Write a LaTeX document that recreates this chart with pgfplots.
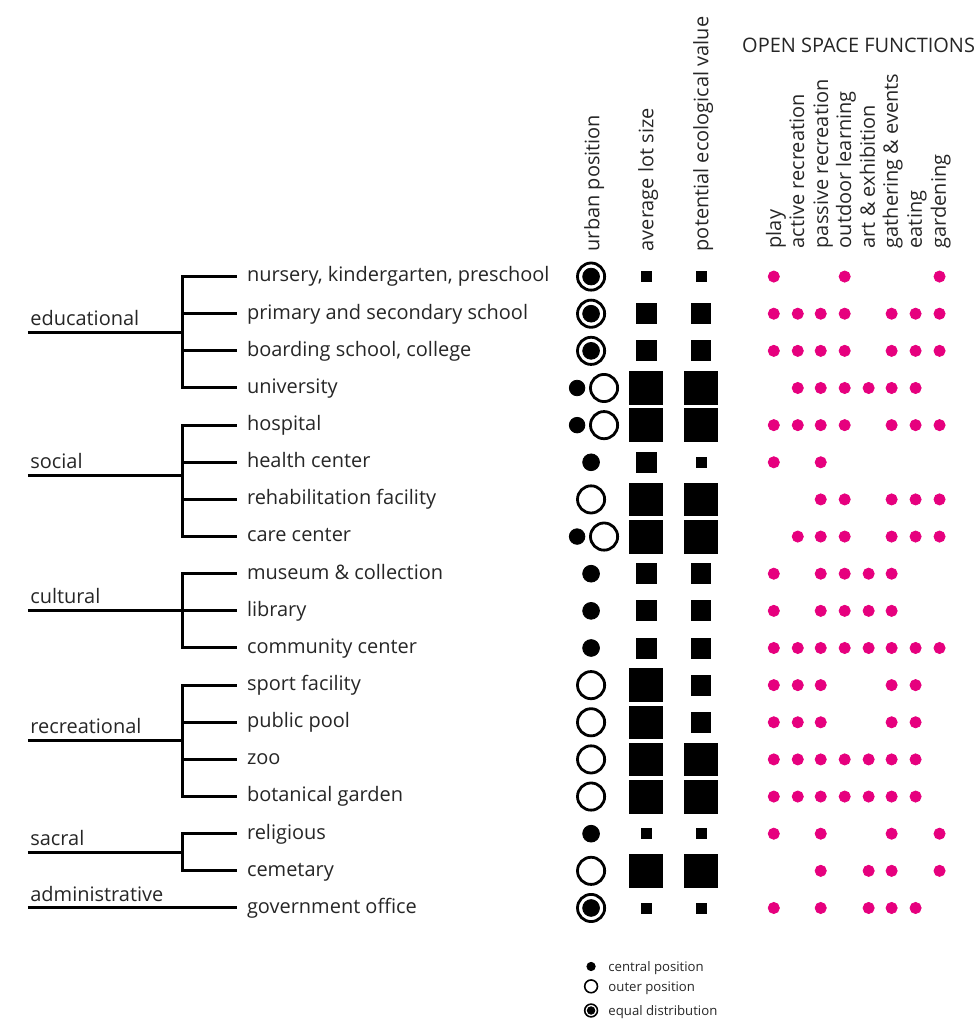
\documentclass[border=0pt]{standalone}
\usepackage{pgfplots}
\pgfplotsset{compat=1.18}
\usepackage{fontspec}
\setmainfont{Open Sans}
\definecolor{fpink}{HTML}{E6007E}
\tikzset{lbl/.style={font=\fontsize{10}{12}\selectfont, inner sep=0pt, text=black!85},
  tree/.style={line width=1.5pt, black}}
\pgfplotsset{fdot/.style={only marks, mark=*, mark size=2.8pt, mark options={draw=fpink, fill=fpink}}}
\begin{document}
\begin{tikzpicture}
\begin{axis}[x=0.5pt, y=18.6pt, y dir=reverse,
  xmin=0, xmax=977, ymin=-6.446, ymax=20.94,
  hide axis, clip=false]
\path[draw=none] (axis cs:0,-6.446) rectangle (axis cs:977,20.94);
% ---- tree ----
\draw[tree] (axis cs:28,2.5) -- (axis cs:183,2.5);
\draw[tree] (axis cs:237,1) -- (axis cs:183,1) -- (axis cs:183,4) -- (axis cs:237,4);
\draw[tree] (axis cs:183,2) -- (axis cs:237,2);
\draw[tree] (axis cs:183,3) -- (axis cs:237,3);
\draw[tree] (axis cs:28,6.35) -- (axis cs:183,6.35);
\draw[tree] (axis cs:237,5) -- (axis cs:183,5) -- (axis cs:183,8) -- (axis cs:237,8);
\draw[tree] (axis cs:183,6) -- (axis cs:237,6);
\draw[tree] (axis cs:183,7) -- (axis cs:237,7);
\draw[tree] (axis cs:28,10) -- (axis cs:237,10);
\draw[tree] (axis cs:237,9) -- (axis cs:183,9) -- (axis cs:183,11) -- (axis cs:237,11);
\draw[tree] (axis cs:28,13.5) -- (axis cs:183,13.5);
\draw[tree] (axis cs:237,12) -- (axis cs:183,12) -- (axis cs:183,15) -- (axis cs:237,15);
\draw[tree] (axis cs:183,13) -- (axis cs:237,13);
\draw[tree] (axis cs:183,14) -- (axis cs:237,14);
\draw[tree] (axis cs:28,16.5) -- (axis cs:183,16.5);
\draw[tree] (axis cs:237,16) -- (axis cs:183,16) -- (axis cs:183,17) -- (axis cs:237,17);
\draw[tree] (axis cs:28,18) -- (axis cs:237,18);
% group labels
\node[lbl, anchor=base west, yshift=3.5pt] at (axis cs:30,2.5) {educational};
\node[lbl, anchor=base west, yshift=3.5pt] at (axis cs:30,6.35) {social};
\node[lbl, anchor=base west, yshift=3.5pt] at (axis cs:30,10) {cultural};
\node[lbl, anchor=base west, yshift=3.5pt] at (axis cs:30,13.5) {recreational};
\node[lbl, anchor=base west, yshift=3.5pt] at (axis cs:30,16.5) {sacral};
\node[lbl, anchor=base west, yshift=3.5pt] at (axis cs:30,18) {administrative};
% row labels
\node[lbl, anchor=mid west] at (axis cs:247,1) {nursery, kindergarten, preschool};
\node[lbl, anchor=mid west] at (axis cs:247,2) {primary and secondary school};
\node[lbl, anchor=mid west] at (axis cs:247,3) {boarding school, college};
\node[lbl, anchor=mid west] at (axis cs:247,4) {university};
\node[lbl, anchor=mid west] at (axis cs:247,5) {hospital};
\node[lbl, anchor=mid west] at (axis cs:247,6) {health center};
\node[lbl, anchor=mid west] at (axis cs:247,7) {rehabilitation facility};
\node[lbl, anchor=mid west] at (axis cs:247,8) {care center};
\node[lbl, anchor=mid west] at (axis cs:247,9) {museum \& collection};
\node[lbl, anchor=mid west] at (axis cs:247,10) {library};
\node[lbl, anchor=mid west] at (axis cs:247,11) {community center};
\node[lbl, anchor=mid west] at (axis cs:247,12) {sport facility};
\node[lbl, anchor=mid west] at (axis cs:247,13) {public pool};
\node[lbl, anchor=mid west] at (axis cs:247,14) {zoo};
\node[lbl, anchor=mid west] at (axis cs:247,15) {botanical garden};
\node[lbl, anchor=mid west] at (axis cs:247,16) {religious};
\node[lbl, anchor=mid west] at (axis cs:247,17) {cemetary};
\node[lbl, anchor=mid west] at (axis cs:247,18) {government office};
% headers
\node[lbl, rotate=90, anchor=mid west] at (axis cs:595,0.33) {urban position};
\node[lbl, rotate=90, anchor=mid west] at (axis cs:649,0.33) {average lot size};
\node[lbl, rotate=90, anchor=mid west] at (axis cs:704,0.33) {potential ecological value};
\node[lbl, anchor=mid west] at (axis cs:743,-5.18) {OPEN SPACE FUNCTIONS};
\node[lbl, rotate=90, anchor=mid west] at (axis cs:777,0.25) {play};
\node[lbl, rotate=90, anchor=mid west] at (axis cs:800,0.25) {active recreation};
\node[lbl, rotate=90, anchor=mid west] at (axis cs:824,0.25) {passive recreation};
\node[lbl, rotate=90, anchor=mid west] at (axis cs:847,0.25) {outdoor learning};
\node[lbl, rotate=90, anchor=mid west] at (axis cs:871,0.25) {art \& exhibition};
\node[lbl, rotate=90, anchor=mid west] at (axis cs:894,0.25) {gathering \& events};
\node[lbl, rotate=90, anchor=mid west] at (axis cs:918,0.25) {eating};
\node[lbl, rotate=90, anchor=mid west] at (axis cs:942,0.25) {gardening};
% ---- urban position ----
\addplot[only marks, mark=o, mark size=6.8pt, mark options={line width=1.4pt, draw=black}]
  coordinates {(592,7) (592,12) (592,13) (592,14) (592,15) (592,17)
               (605,4) (605,5) (605,8)};
\addplot[only marks, mark=*, mark size=4.2pt, mark options={draw=black, fill=black}]
  coordinates {(592,6) (592,9) (592,10) (592,11) (592,16)};
\addplot[only marks, mark=*, mark size=3.9pt, mark options={draw=black, fill=black}]
  coordinates {(578,4) (578,5) (578,8)};
\addplot[only marks, mark=o, mark size=6.8pt, mark options={line width=1.4pt, draw=black}]
  coordinates {(592,1) (592,2) (592,3) (592,18)};
\addplot[only marks, mark=*, mark size=4.2pt, mark options={draw=black, fill=black}]
  coordinates {(592,1) (592,2) (592,3) (592,18)};
% ---- average lot size ----
\addplot[only marks, mark=square*, mark size=2.5pt, mark options={draw=black, fill=black}]
  coordinates {(647,1) (647,16) (647,18)};
\addplot[only marks, mark=square*, mark size=5pt, mark options={draw=black, fill=black}]
  coordinates {(647,2) (647,3) (647,6) (647,9) (647,10) (647,11)};
\addplot[only marks, mark=square*, mark size=8.2pt, mark options={draw=black, fill=black}]
  coordinates {(647,4) (647,5) (647,7) (647,8) (647,12) (647,13) (647,14) (647,15) (647,17)};
% ---- potential ecological value ----
\addplot[only marks, mark=square*, mark size=2.5pt, mark options={draw=black, fill=black}]
  coordinates {(702,1) (702,6) (702,16) (702,18)};
\addplot[only marks, mark=square*, mark size=5pt, mark options={draw=black, fill=black}]
  coordinates {(702,2) (702,3) (702,9) (702,10) (702,11) (702,12) (702,13)};
\addplot[only marks, mark=square*, mark size=8.2pt, mark options={draw=black, fill=black}]
  coordinates {(702,4) (702,5) (702,7) (702,8) (702,14) (702,15) (702,17)};
% ---- open space functions ----
\addplot[fdot] coordinates {(775,1) (775,2) (775,3) (775,5) (775,6) (775,9) (775,10) (775,11) (775,12) (775,13) (775,14) (775,15) (775,16) (775,18)};
\addplot[fdot] coordinates {(799,2) (799,3) (799,4) (799,5) (799,8) (799,11) (799,12) (799,13) (799,14) (799,15)};
\addplot[fdot] coordinates {(822,2) (822,3) (822,4) (822,5) (822,6) (822,7) (822,8) (822,9) (822,10) (822,11) (822,12) (822,13) (822,14) (822,15) (822,16) (822,17) (822,18)};
\addplot[fdot] coordinates {(846,1) (846,2) (846,3) (846,4) (846,5) (846,7) (846,8) (846,9) (846,10) (846,11) (846,14) (846,15)};
\addplot[fdot] coordinates {(870,4) (870,9) (870,10) (870,11) (870,14) (870,15) (870,17) (870,18)};
\addplot[fdot] coordinates {(893,2) (893,3) (893,4) (893,5) (893,7) (893,8) (893,9) (893,10) (893,11) (893,12) (893,13) (893,14) (893,15) (893,16) (893,17) (893,18)};
\addplot[fdot] coordinates {(917,2) (917,3) (917,4) (917,5) (917,7) (917,8) (917,11) (917,12) (917,13) (917,14) (917,15) (917,18)};
\addplot[fdot] coordinates {(941,1) (941,2) (941,3) (941,5) (941,7) (941,8) (941,11) (941,16) (941,17)};
% ---- legend ----
\addplot[only marks, mark=*, mark size=2.1pt, mark options={draw=black, fill=black}]
  coordinates {(592,19.575)};
\addplot[only marks, mark=o, mark size=3.2pt, mark options={line width=0.8pt, draw=black}]
  coordinates {(592,20.11) (592,20.76)};
\addplot[only marks, mark=*, mark size=1.9pt, mark options={draw=black, fill=black}]
  coordinates {(592,20.76)};
\node[lbl, anchor=mid west, font=\fontsize{6.6}{7}\selectfont] at (axis cs:609,19.575) {central position};
\node[lbl, anchor=mid west, font=\fontsize{6.6}{7}\selectfont] at (axis cs:609,20.11) {outer position};
\node[lbl, anchor=mid west, font=\fontsize{6.6}{7}\selectfont] at (axis cs:609,20.76) {equal distribution};
\end{axis}
\end{tikzpicture}
\end{document}
